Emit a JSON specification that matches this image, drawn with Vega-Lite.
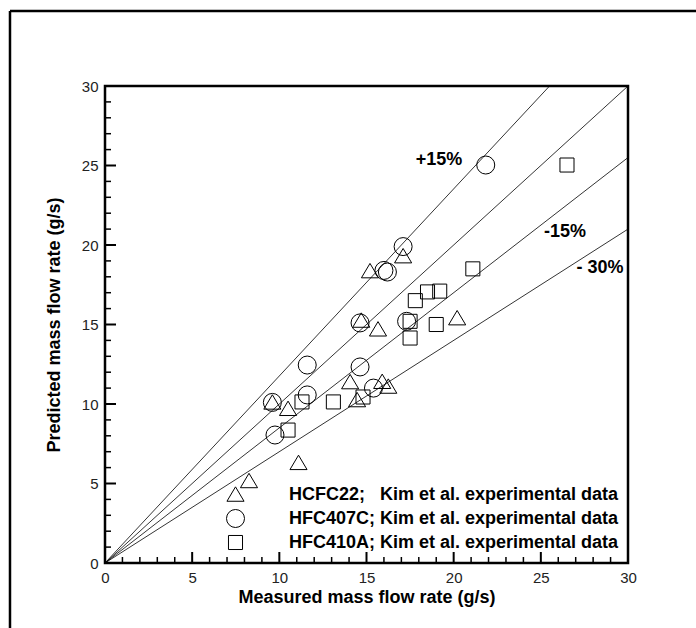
{
  "$schema": "https://vega.github.io/schema/vega-lite/v6.json",
  "autosize": "none",
  "width": 523,
  "height": 477,
  "padding": {"left": 105, "top": 86, "right": 68, "bottom": 65},
  "background": "white",
  "config": {
    "view": {"stroke": "black", "strokeWidth": 2.5},
    "font": "Liberation Sans"
  },
  "datasets": {
    "points": [
      {"series": "HCFC22;\u00a0\u00a0 Kim et al. experimental data", "x": 8.26, "y": 5.16},
      {"series": "HCFC22;\u00a0\u00a0 Kim et al. experimental data", "x": 11.1, "y": 6.3},
      {"series": "HCFC22;\u00a0\u00a0 Kim et al. experimental data", "x": 10.5, "y": 9.7},
      {"series": "HCFC22;\u00a0\u00a0 Kim et al. experimental data", "x": 9.6, "y": 10.1},
      {"series": "HCFC22;\u00a0\u00a0 Kim et al. experimental data", "x": 14.46, "y": 10.25},
      {"series": "HCFC22;\u00a0\u00a0 Kim et al. experimental data", "x": 14.06, "y": 11.38},
      {"series": "HCFC22;\u00a0\u00a0 Kim et al. experimental data", "x": 15.9, "y": 11.4},
      {"series": "HCFC22;\u00a0\u00a0 Kim et al. experimental data", "x": 16.25, "y": 11.1},
      {"series": "HCFC22;\u00a0\u00a0 Kim et al. experimental data", "x": 14.7, "y": 15.25},
      {"series": "HCFC22;\u00a0\u00a0 Kim et al. experimental data", "x": 15.66, "y": 14.7},
      {"series": "HCFC22;\u00a0\u00a0 Kim et al. experimental data", "x": 15.2, "y": 18.36},
      {"series": "HCFC22;\u00a0\u00a0 Kim et al. experimental data", "x": 17.1, "y": 19.3},
      {"series": "HCFC22;\u00a0\u00a0 Kim et al. experimental data", "x": 20.2, "y": 15.4},
      {"series": "HFC407C; Kim et al. experimental data", "x": 9.75, "y": 8.05},
      {"series": "HFC407C; Kim et al. experimental data", "x": 9.6, "y": 10.1},
      {"series": "HFC407C; Kim et al. experimental data", "x": 11.6, "y": 10.57},
      {"series": "HFC407C; Kim et al. experimental data", "x": 11.6, "y": 12.45},
      {"series": "HFC407C; Kim et al. experimental data", "x": 14.63, "y": 12.33},
      {"series": "HFC407C; Kim et al. experimental data", "x": 15.4, "y": 11.0},
      {"series": "HFC407C; Kim et al. experimental data", "x": 14.63, "y": 15.1},
      {"series": "HFC407C; Kim et al. experimental data", "x": 17.3, "y": 15.2},
      {"series": "HFC407C; Kim et al. experimental data", "x": 16.0, "y": 18.4},
      {"series": "HFC407C; Kim et al. experimental data", "x": 16.2, "y": 18.3},
      {"series": "HFC407C; Kim et al. experimental data", "x": 17.1, "y": 19.9},
      {"series": "HFC407C; Kim et al. experimental data", "x": 21.84, "y": 25.03},
      {"series": "HFC410A; Kim et al. experimental data", "x": 10.5, "y": 8.36},
      {"series": "HFC410A; Kim et al. experimental data", "x": 11.3, "y": 10.13},
      {"series": "HFC410A; Kim et al. experimental data", "x": 13.1, "y": 10.13},
      {"series": "HFC410A; Kim et al. experimental data", "x": 14.8, "y": 10.44},
      {"series": "HFC410A; Kim et al. experimental data", "x": 17.5, "y": 14.15},
      {"series": "HFC410A; Kim et al. experimental data", "x": 17.5, "y": 15.2},
      {"series": "HFC410A; Kim et al. experimental data", "x": 19.0, "y": 15.0},
      {"series": "HFC410A; Kim et al. experimental data", "x": 17.8, "y": 16.5},
      {"series": "HFC410A; Kim et al. experimental data", "x": 18.5, "y": 17.05},
      {"series": "HFC410A; Kim et al. experimental data", "x": 19.2, "y": 17.1},
      {"series": "HFC410A; Kim et al. experimental data", "x": 21.1, "y": 18.5},
      {"series": "HFC410A; Kim et al. experimental data", "x": 26.5, "y": 25.03}
    ],
    "lines": [
      {"line": "+15%", "x": 0, "y": 0}, {"line": "+15%", "x": 25.5, "y": 30},
      {"line": "0%", "x": 0, "y": 0}, {"line": "0%", "x": 30, "y": 30},
      {"line": "-15%", "x": 0, "y": 0}, {"line": "-15%", "x": 30, "y": 25.5},
      {"line": "-30%", "x": 0, "y": 0}, {"line": "-30%", "x": 30, "y": 21}
    ],
    "labels": [
      {"label": "+15%", "x": 19.16, "y": 25.35},
      {"label": "-15%", "x": 26.39, "y": 20.8},
      {"label": "- 30%", "x": 28.4, "y": 18.55}
    ],
    "frame": [
      {"x": -5.45, "x2": -5.45, "y": -6, "y2": 34.72},
      {"x": -5.45, "x2": 40, "y": 34.72, "y2": 34.72}
    ],
    "majorTicks": [
      {"v": 0}, {"v": 5}, {"v": 10}, {"v": 15}, {"v": 20}, {"v": 25}, {"v": 30}
    ],
    "minorTicks": [
      {"v": 1}, {"v": 2}, {"v": 3}, {"v": 4}, {"v": 6}, {"v": 7}, {"v": 8}, {"v": 9},
      {"v": 11}, {"v": 12}, {"v": 13}, {"v": 14}, {"v": 16}, {"v": 17}, {"v": 18}, {"v": 19},
      {"v": 21}, {"v": 22}, {"v": 23}, {"v": 24}, {"v": 26}, {"v": 27}, {"v": 28}, {"v": 29}
    ]
  },
  "layer": [
    {
      "data": {"name": "lines"},
      "mark": {"type": "line", "color": "black", "strokeWidth": 0.8},
      "encoding": {
        "x": {
          "field": "x", "type": "quantitative",
          "scale": {"domain": [0, 30], "nice": false, "zero": false},
          "axis": {
            "orient": "bottom",
            "values": [0, 5, 10, 15, 20, 25, 30],
            "title": "Measured mass flow rate (g/s)",
            "titleFont": "Liberation Sans", "titleFontSize": 18, "titleFontWeight": "bold",
            "titleColor": "black", "titlePadding": 3,
            "labelFont": "Liberation Sans", "labelFontSize": 15, "labelColor": "#222",
            "labelFontWeight": "normal",
            "ticks": false, "tickSize": 0,
            "labelPadding": 7,
            "domain": false,
            "grid": false, "labelFlush": false
          }
        },
        "y": {
          "field": "y", "type": "quantitative",
          "scale": {"domain": [0, 30], "nice": false, "zero": false},
          "axis": {
            "orient": "left",
            "values": [0, 5, 10, 15, 20, 25, 30],
            "title": "Predicted mass flow rate (g/s)",
            "titleFont": "Liberation Sans", "titleFontSize": 18, "titleFontWeight": "bold",
            "titleColor": "black", "titlePadding": 18,
            "labelFont": "Liberation Sans", "labelFontSize": 15, "labelColor": "#222",
            "ticks": false, "tickSize": 0,
            "labelPadding": 7,
            "domain": false,
            "grid": false, "labelFlush": false
          }
        },
        "detail": {"field": "line"}
      }
    },
    {
      "data": {"name": "majorTicks"},
      "mark": {"type": "tick", "orient": "vertical", "color": "black", "size": 11, "thickness": 2, "yOffset": -5.5, "opacity": 1},
      "encoding": {
        "x": {"field": "v", "type": "quantitative", "scale": {"domain": [0, 30], "nice": false, "zero": false}, "axis": null},
        "y": {"datum": 0, "type": "quantitative", "scale": {"domain": [0, 30], "nice": false, "zero": false}, "axis": null}
      }
    },
    {
      "data": {"name": "minorTicks"},
      "mark": {"type": "tick", "orient": "vertical", "color": "black", "size": 6, "thickness": 1.5, "yOffset": -3, "opacity": 1},
      "encoding": {
        "x": {"field": "v", "type": "quantitative", "scale": {"domain": [0, 30], "nice": false, "zero": false}, "axis": null},
        "y": {"datum": 0, "type": "quantitative", "scale": {"domain": [0, 30], "nice": false, "zero": false}, "axis": null}
      }
    },
    {
      "data": {"name": "majorTicks"},
      "mark": {"type": "tick", "orient": "horizontal", "color": "black", "size": 11, "thickness": 2, "xOffset": 5.5, "opacity": 1},
      "encoding": {
        "y": {"field": "v", "type": "quantitative", "scale": {"domain": [0, 30], "nice": false, "zero": false}, "axis": null},
        "x": {"datum": 0, "type": "quantitative", "scale": {"domain": [0, 30], "nice": false, "zero": false}, "axis": null}
      }
    },
    {
      "data": {"name": "minorTicks"},
      "mark": {"type": "tick", "orient": "horizontal", "color": "black", "size": 6, "thickness": 1.5, "xOffset": 3, "opacity": 1},
      "encoding": {
        "y": {"field": "v", "type": "quantitative", "scale": {"domain": [0, 30], "nice": false, "zero": false}, "axis": null},
        "x": {"datum": 0, "type": "quantitative", "scale": {"domain": [0, 30], "nice": false, "zero": false}, "axis": null}
      }
    },
    {
      "data": {"name": "points"},
      "mark": {"type": "point", "filled": false, "stroke": "black", "strokeWidth": 1, "opacity": 1, "size": 324},
      "encoding": {
        "x": {"field": "x", "type": "quantitative", "scale": {"domain": [0, 30], "nice": false, "zero": false}, "axis": null},
        "y": {"field": "y", "type": "quantitative", "scale": {"domain": [0, 30], "nice": false, "zero": false}, "axis": null},
        "shape": {
          "field": "series", "type": "nominal",
          "scale": {
            "domain": ["HCFC22;\u00a0\u00a0 Kim et al. experimental data", "HFC407C; Kim et al. experimental data", "HFC410A; Kim et al. experimental data"],
            "range": ["M0,-0.85L0.95,0.75L-0.95,0.75Z", "circle", "M-0.78,-0.78H0.78V0.78H-0.78Z"]
          },
          "legend": {
            "orient": "none", "legendX": 121, "legendY": 399, "title": null,
            "labelFont": "Liberation Sans", "labelFontSize": 18, "labelFontWeight": "bold",
            "labelColor": "black", "labelLimit": 0, "labelOffset": 44,
            "rowPadding": 3, "symbolStrokeColor": "black", "symbolStrokeWidth": 1,
            "symbolFillColor": "transparent", "symbolSize": 324,
            "padding": 0
          }
        }
      }
    },
    {
      "data": {"name": "labels"},
      "mark": {"type": "text", "font": "Liberation Sans", "fontSize": 18, "fontWeight": "bold", "color": "black", "align": "center", "baseline": "middle"},
      "encoding": {
        "x": {"field": "x", "type": "quantitative", "scale": {"domain": [0, 30], "nice": false, "zero": false}, "axis": null},
        "y": {"field": "y", "type": "quantitative", "scale": {"domain": [0, 30], "nice": false, "zero": false}, "axis": null},
        "text": {"field": "label"}
      }
    },
    {
      "data": {"name": "frame"},
      "mark": {"type": "rule", "color": "black", "strokeWidth": 2.5, "clip": false},
      "encoding": {
        "x": {"field": "x", "type": "quantitative", "scale": {"domain": [0, 30], "nice": false, "zero": false}, "axis": null},
        "x2": {"field": "x2"},
        "y": {"field": "y", "type": "quantitative", "scale": {"domain": [0, 30], "nice": false, "zero": false}, "axis": null},
        "y2": {"field": "y2"}
      }
    }
  ],
  "resolve": {"axis": {"x": "independent", "y": "independent"}}
}
